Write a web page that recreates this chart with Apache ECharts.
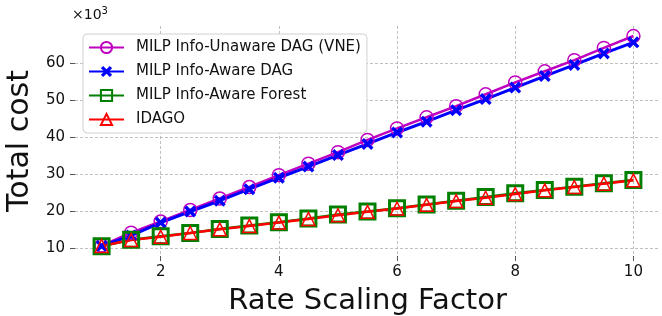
<!DOCTYPE html>
<html>
<head>
<meta charset="utf-8">
<script src="https://cdn.jsdelivr.net/npm/echarts@6/dist/echarts.min.js"></script>
<style>
  html, body { margin: 0; padding: 0; background: #fff; }
  #chart { width: 662px; height: 316px; }
</style>
</head>
<body>
<div id="chart"></div>
<script>
// rate scaling factor
const rates = [1, 1.5, 2, 2.5, 3, 3.5, 4, 4.5, 5, 5.5, 6, 6.5, 7, 7.5, 8, 8.5, 9, 9.5, 10]
// total cost, in thousands
const unawareDag = [10.8, 14.3, 17.3, 20.4, 23.5, 26.6, 29.8, 32.9, 36.0, 39.3, 42.4, 45.4, 48.4, 51.6, 54.8, 57.8, 60.8, 64.1, 67.3]
const awareDag = [10.7, 13.5, 17.0, 20.0, 22.9, 26.0, 29.1, 32.1, 35.2, 38.2, 41.3, 44.2, 47.3, 50.3, 53.4, 56.5, 59.5, 62.6, 65.6]
const awareForest = [10.6, 12.4, 13.3, 14.2, 15.3, 16.2, 17.1, 18.1, 19.2, 20.0, 20.9, 21.9, 22.9, 23.9, 24.9, 25.8, 26.7, 27.6, 28.5]
const idago = [10.7, 12.3, 13.2, 14.2, 15.2, 16.1, 17.0, 18.0, 19.0, 19.9, 20.8, 21.8, 22.8, 23.7, 24.7, 25.7, 26.6, 27.5, 28.4]
const xTicks = [2, 4, 6, 8, 10]
const yTicks = [10, 20, 30, 40, 50, 60]

const font = 'DejaVu Sans'
const xMarker = 'path://M0,2 L2,0 L5,3 L8,0 L10,2 L7,5 L10,8 L8,10 L5,7 L2,10 L0,8 L3,5 Z'

const pair = arr => arr.map((v, i) => [rates[i], v])

const mkSeries = (name, data, color, symbol, size, filled, border, width) => ({
  name,
  type: 'line',
  data: pair(data),
  symbol,
  symbolSize: size,
  showAllSymbol: true,
  lineStyle: { color, width },
  itemStyle: {
    color: filled ? color : 'rgba(0,0,0,0)',
    borderColor: color,
    borderWidth: border
  },
  emphasis: { disabled: true },
  animation: false
})

const chart = echarts.init(document.getElementById('chart'))
chart.setOption({
  animation: false,
  grid: { left: 75, right: 2, top: 26, bottom: 60, outerBoundsMode: 'none', containLabel: false },
  legend: {
    left: 83,
    top: 34,
    orient: 'vertical',
    backgroundColor: '#fff',
    borderColor: '#d0d0d0',
    borderWidth: 1,
    borderRadius: 4,
    padding: [6, 6, 6, 5],
    itemWidth: 35,
    itemHeight: 14,
    itemGap: 9,
    textStyle: { fontFamily: font, fontSize: 15, color: '#111', padding: [0, 0, 0, 7] },
    data: ['MILP Info-Unaware DAG (VNE)', 'MILP Info-Aware DAG', 'MILP Info-Aware Forest', 'IDAGO']
  },
  graphic: [{
    type: 'text',
    left: 72,
    top: 6,
    style: {
      text: '×10{s|3}',
      fontFamily: font,
      fontSize: 14,
      fill: '#111',
      rich: { s: { fontFamily: font, fontSize: 10, verticalAlign: 'top', padding: [0, 0, 8, 0] } }
    }
  }],
  xAxis: {
    type: 'value',
    min: 0.55,
    max: 10.45,
    name: 'Rate Scaling Factor',
    nameLocation: 'middle',
    nameGap: 31,
    nameTextStyle: { fontFamily: font, fontSize: 29, color: '#111' },
    axisLine: { show: false },
    axisTick: { show: true, customValues: xTicks, length: 5, lineStyle: { color: '#555' } },
    axisLabel: { customValues: xTicks, fontFamily: font, fontSize: 15, color: '#111', margin: 9 },
    splitLine: { show: true, lineStyle: { color: '#b0b0b0', type: [3, 2], width: 0.8 } }
  },
  yAxis: {
    type: 'value',
    min: 8,
    max: 70,
    name: 'Total cost',
    nameLocation: 'middle',
    nameGap: 36,
    nameTextStyle: { fontFamily: font, fontSize: 30, color: '#111' },
    axisLine: { show: false },
    axisTick: { show: true, customValues: yTicks, length: 5, lineStyle: { color: '#555' } },
    axisLabel: { customValues: yTicks, fontFamily: font, fontSize: 15, color: '#111', margin: 10 },
    splitLine: { show: true, lineStyle: { color: '#b0b0b0', type: [3, 2], width: 0.8 } }
  },
  series: [
    mkSeries('MILP Info-Unaware DAG (VNE)', unawareDag, '#bf00bf', 'circle', 13, false, 1.5, 2.5),
    mkSeries('MILP Info-Aware DAG', awareDag, '#0000ff', xMarker, 12, true, 0, 3),
    mkSeries('MILP Info-Aware Forest', awareForest, '#008000', 'rect', 15, false, 3, 2.5),
    mkSeries('IDAGO', idago, '#ff0000', 'triangle', 13, false, 1.5, 2.5)
  ]
})
</script>
</body>
</html>
